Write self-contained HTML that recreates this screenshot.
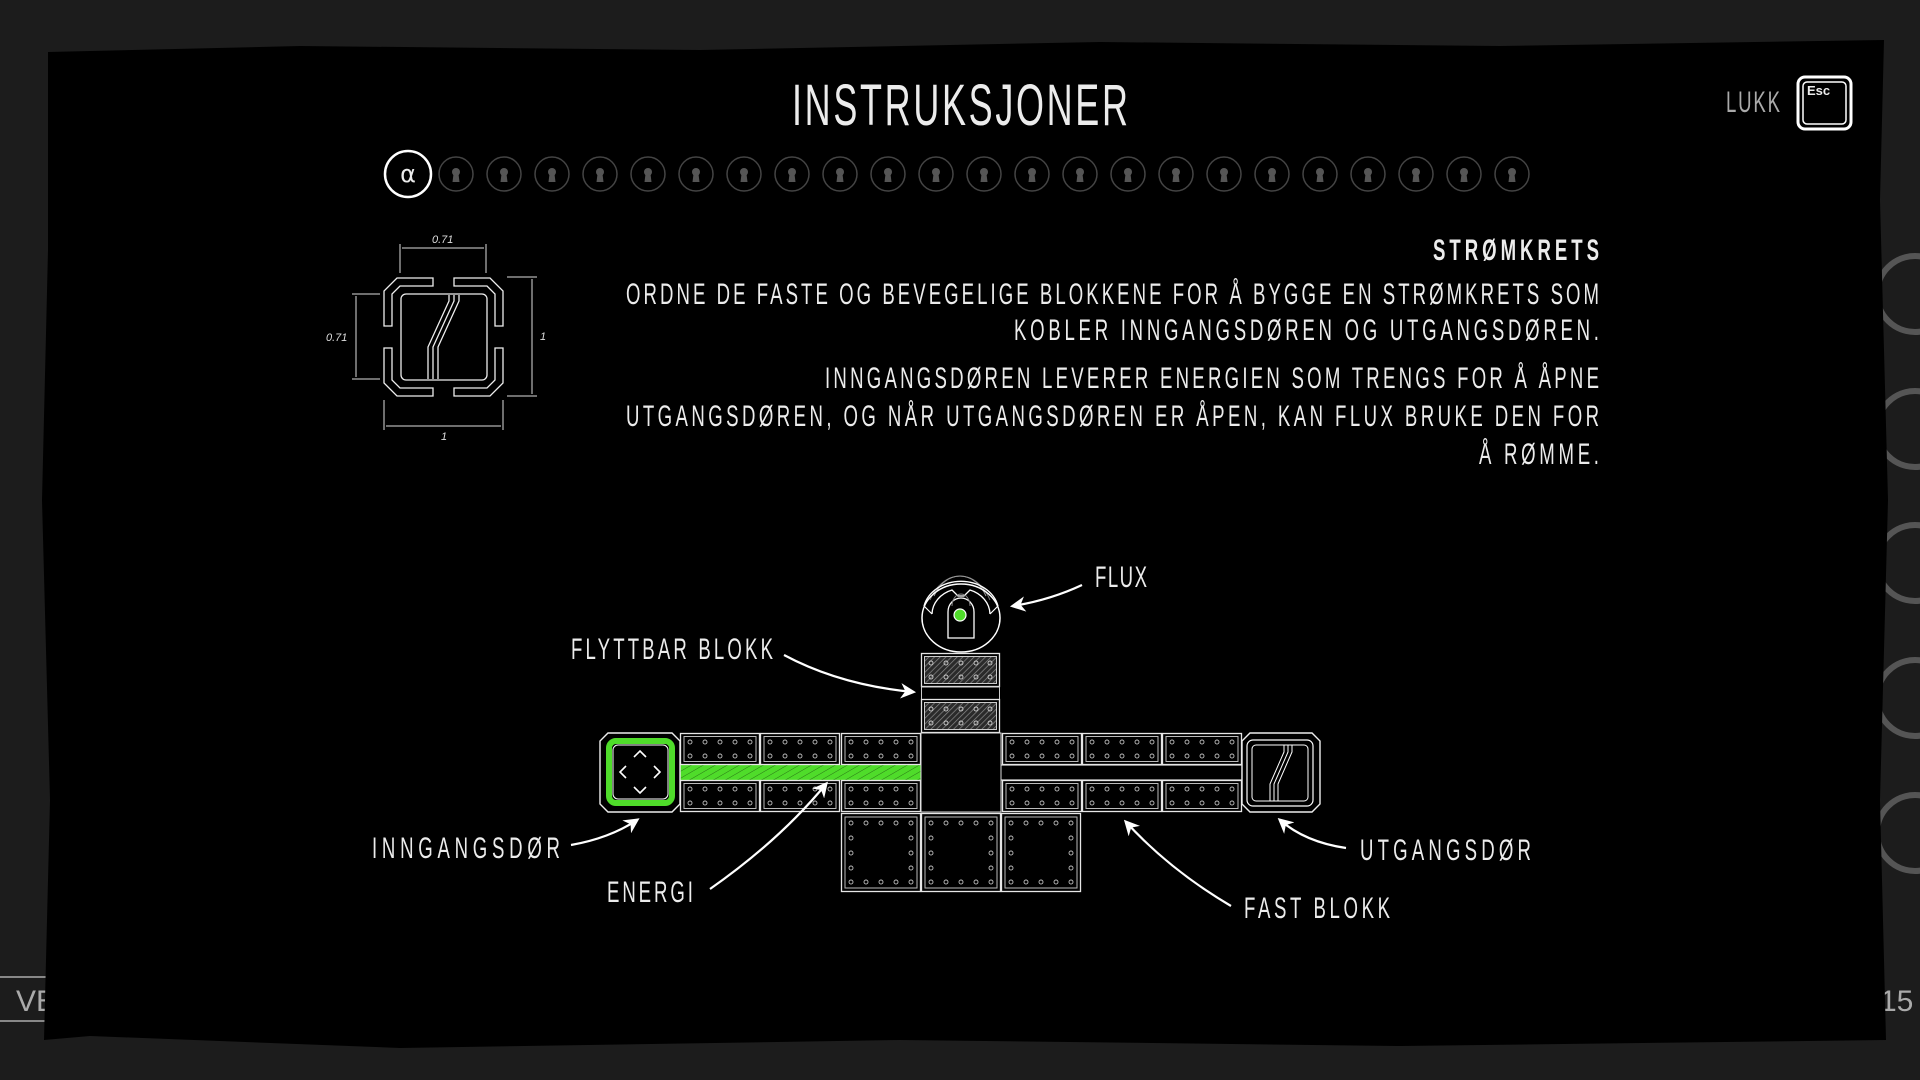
<!DOCTYPE html>
<html><head><meta charset="utf-8">
<style>
html,body{margin:0;padding:0;background:#1c1c1c;width:1920px;height:1080px;overflow:hidden}
svg{display:block}
text{font-family:"Liberation Sans",sans-serif;fill:#ececec}
</style></head><body>
<svg width="1920" height="1080" viewBox="0 0 1920 1080" xmlns="http://www.w3.org/2000/svg">
<defs>
  <pattern id="hatch" width="4" height="4" patternUnits="userSpaceOnUse" patternTransform="rotate(45)">
    <rect width="4" height="4" fill="#2a2a2a"/><line x1="0" y1="0" x2="0" y2="4" stroke="#8a8a8a" stroke-width="1.4"/>
  </pattern>
  <pattern id="ghatch" width="6" height="6" patternUnits="userSpaceOnUse" patternTransform="rotate(60)">
    <rect width="6" height="6" fill="#4fdc2a"/><line x1="0" y1="0" x2="0" y2="6" stroke="#1f5a10" stroke-width="0.8"/>
  </pattern>
  <g id="hb">
    <rect x="0.5" y="0.5" width="79" height="31" fill="#000" stroke="#e6e6e6" stroke-width="1.3"/>
    <rect x="4" y="3.5" width="72" height="25" fill="none" stroke="#bbb" stroke-width="1"/>
    <g fill="none" stroke="#bbb" stroke-width="0.9">
      <circle cx="10" cy="9" r="2"/><circle cx="25" cy="9" r="2"/><circle cx="40" cy="9" r="2"/><circle cx="55" cy="9" r="2"/><circle cx="70" cy="9" r="2"/>
      <circle cx="10" cy="23" r="2"/><circle cx="25" cy="23" r="2"/><circle cx="40" cy="23" r="2"/><circle cx="55" cy="23" r="2"/><circle cx="70" cy="23" r="2"/>
    </g>
  </g>
  <g id="mb">
    <rect x="0.5" y="0.5" width="78" height="33" fill="#000" stroke="#e6e6e6" stroke-width="1.3"/>
    <rect x="3.5" y="3.5" width="72" height="27" fill="url(#hatch)" stroke="#ccc" stroke-width="1"/>
    <g fill="none" stroke="#ccc" stroke-width="0.9">
      <circle cx="10" cy="10" r="2"/><circle cx="25" cy="10" r="2"/><circle cx="40" cy="10" r="2"/><circle cx="55" cy="10" r="2"/><circle cx="69" cy="10" r="2"/>
      <circle cx="10" cy="24" r="2"/><circle cx="25" cy="24" r="2"/><circle cx="40" cy="24" r="2"/><circle cx="55" cy="24" r="2"/><circle cx="69" cy="24" r="2"/>
    </g>
  </g>
  <g id="sq">
    <rect x="0.5" y="0.5" width="79" height="78" fill="#000" stroke="#e6e6e6" stroke-width="1.3"/>
    <rect x="4" y="4" width="72" height="71" fill="none" stroke="#bbb" stroke-width="1"/>
    <g fill="none" stroke="#bbb" stroke-width="0.9">
      <circle cx="10" cy="10" r="2"/><circle cx="25" cy="10" r="2"/><circle cx="40" cy="10" r="2"/><circle cx="55" cy="10" r="2"/><circle cx="70" cy="10" r="2"/>
      <circle cx="10" cy="69" r="2"/><circle cx="25" cy="69" r="2"/><circle cx="40" cy="69" r="2"/><circle cx="55" cy="69" r="2"/><circle cx="70" cy="69" r="2"/>
      <circle cx="10" cy="25" r="2"/><circle cx="10" cy="40" r="2"/><circle cx="10" cy="55" r="2"/>
      <circle cx="70" cy="25" r="2"/><circle cx="70" cy="40" r="2"/><circle cx="70" cy="55" r="2"/>
    </g>
  </g>
  <g id="kh">
    <circle r="17" fill="none" stroke="#444" stroke-width="1.5"/>
    <circle cx="0" cy="-2" r="4" fill="#555"/><path d="M-2.5 0 L2.5 0 L3.5 8 L-3.5 8 Z" fill="#555"/>
  </g>
  <marker id="ah" viewBox="0 0 10 10" refX="8" refY="5" markerWidth="7" markerHeight="7" orient="auto">
    <path d="M0 0 L10 5 L0 10 L3 5 Z" fill="#fff"/>
  </marker>
</defs>

<rect width="1920" height="1080" fill="#1c1c1c"/>
<g fill="none" stroke="#555" stroke-width="6">
  <circle cx="1915" cy="294" r="38"/><circle cx="1915" cy="429" r="38"/><circle cx="1915" cy="563" r="38"/><circle cx="1915" cy="698" r="38"/><circle cx="1915" cy="833" r="38"/>
</g>
<line x1="0" y1="977" x2="100" y2="977" stroke="#888" stroke-width="2"/>
<line x1="0" y1="1021" x2="100" y2="1021" stroke="#888" stroke-width="2"/>
<text x="16" y="1011" font-size="30" style="fill:#aaa">VE</text>
<text x="1880" y="1011" font-size="30" style="fill:#aaa">15</text>

<path d="M48 52 L300 46 L700 50 L1100 42 L1500 46 L1884 40 L1880 200 L1888 500 L1880 800 L1886 1040 L1400 1046 L900 1040 L400 1048 L90 1036 L44 1040 L50 800 L42 500 L48 250 Z" fill="#000"/>

<g transform="scale(0.62,1)">
  <text x="1277.4" y="125" font-size="58" textLength="541.9" lengthAdjust="spacing">INSTRUKSJONER</text>
  <text x="2783.9" y="112" font-size="30" textLength="87.1" lengthAdjust="spacing" style="fill:#aaa">LUKK</text>
  <text x="2579" y="260" font-size="30" font-weight="bold" textLength="267.7" lengthAdjust="spacing" text-anchor="end">STRØMKRETS</text>
  <g font-size="30">
    <text x="1009.7" y="304" textLength="1569.4" lengthAdjust="spacing">ORDNE DE FASTE OG BEVEGELIGE BLOKKENE FOR Å BYGGE EN STRØMKRETS SOM</text>
    <text x="1635.5" y="340" textLength="943.5" lengthAdjust="spacing">KOBLER INNGANGSDØREN OG UTGANGSDØREN.</text>
    <text x="1330.6" y="388" textLength="1248.4" lengthAdjust="spacing">INNGANGSDØREN LEVERER ENERGIEN SOM TRENGS FOR Å ÅPNE</text>
    <text x="1009.7" y="426" textLength="1569.4" lengthAdjust="spacing">UTGANGSDØREN, OG NÅR UTGANGSDØREN ER ÅPEN, KAN FLUX BRUKE DEN FOR</text>
    <text x="2385.5" y="464" textLength="193.5" lengthAdjust="spacing">Å RØMME.</text>
    <text x="1766.1" y="587" textLength="83.9" lengthAdjust="spacing">FLUX</text>
    <text x="921" y="659" textLength="325.8" lengthAdjust="spacing">FLYTTBAR BLOKK</text>
    <text x="600" y="858" textLength="303.2" lengthAdjust="spacing">INNGANGSDØR</text>
    <text x="979" y="902" textLength="138.7" lengthAdjust="spacing">ENERGI</text>
    <text x="2006.5" y="918" textLength="235.5" lengthAdjust="spacing">FAST BLOKK</text>
    <text x="2193.5" y="860" textLength="275.8" lengthAdjust="spacing">UTGANGSDØR</text>
  </g>
</g>

<rect x="1798" y="77" width="53" height="52" rx="7" fill="none" stroke="#fff" stroke-width="3"/>
<rect x="1803" y="82" width="43" height="42" rx="4" fill="none" stroke="#fff" stroke-width="1.5"/>
<text x="1807" y="95" font-size="13" font-weight="bold">Esc</text>

<circle cx="408" cy="174" r="23" fill="none" stroke="#fff" stroke-width="2.5"/>
<text x="408" y="182" font-size="24" text-anchor="middle" style="font-family:'DejaVu Sans',sans-serif">α</text>
<use href="#kh" x="456" y="174"/><use href="#kh" x="504" y="174"/><use href="#kh" x="552" y="174"/><use href="#kh" x="600" y="174"/><use href="#kh" x="648" y="174"/><use href="#kh" x="696" y="174"/><use href="#kh" x="744" y="174"/><use href="#kh" x="792" y="174"/><use href="#kh" x="840" y="174"/><use href="#kh" x="888" y="174"/><use href="#kh" x="936" y="174"/><use href="#kh" x="984" y="174"/><use href="#kh" x="1032" y="174"/><use href="#kh" x="1080" y="174"/><use href="#kh" x="1128" y="174"/><use href="#kh" x="1176" y="174"/><use href="#kh" x="1224" y="174"/><use href="#kh" x="1272" y="174"/><use href="#kh" x="1320" y="174"/><use href="#kh" x="1368" y="174"/><use href="#kh" x="1416" y="174"/><use href="#kh" x="1464" y="174"/><use href="#kh" x="1512" y="174"/>

<g fill="none" stroke="#eee" stroke-width="1.3">
  <path d="M433 278 L397 278 L384 291 L384 326 L392 326 L392 294 L400 286 L433 286 Z"/>
  <path d="M454 278 L490 278 L503 291 L503 326 L495 326 L495 294 L487 286 L454 286 Z"/>
  <path d="M433 396 L397 396 L384 383 L384 348 L392 348 L392 380 L400 388 L433 388 Z"/>
  <path d="M454 396 L490 396 L503 383 L503 348 L495 348 L495 380 L487 388 L454 388 Z"/>
  <rect x="401" y="294" width="86" height="86" rx="5"/>
  <path d="M449 295 L449 301 L428 347 L428 379 M454 295 L454 301 L433 347 L433 379 M459 295 L459 301 L438 347 L438 379"/>
</g>
<g stroke="#ddd" stroke-width="1" fill="none">
  <line x1="400" y1="244" x2="400" y2="273"/><line x1="486" y1="244" x2="486" y2="273"/>
  <line x1="402" y1="248" x2="484" y2="248"/>
  <line x1="380" y1="294" x2="352" y2="294"/><line x1="380" y1="379" x2="352" y2="379"/>
  <line x1="356" y1="296" x2="356" y2="377"/>
  <line x1="507" y1="277" x2="537" y2="277"/><line x1="507" y1="396" x2="537" y2="396"/>
  <line x1="532" y1="279" x2="532" y2="394"/>
  <line x1="384" y1="400" x2="384" y2="430"/><line x1="503" y1="400" x2="503" y2="430"/>
  <line x1="386" y1="426" x2="501" y2="426"/>
</g>
<g font-size="11" font-style="italic">
  <text x="432" y="243" style="fill:#ddd">0.71</text>
  <text x="326" y="341" style="fill:#ddd">0.71</text>
  <text x="540" y="340" style="fill:#ddd">1</text>
  <text x="441" y="440" style="fill:#ddd">1</text>
</g>

<g fill="none" stroke="#fff">
  <path d="M930 600 A34 45 0 0 1 990 600" stroke="#777" stroke-width="1"/>
  <path d="M934 596 A30 40 0 0 1 986 596" stroke="#999" stroke-width="1"/>
  <ellipse cx="961" cy="618" rx="39" ry="34" stroke-width="1.5"/>
  <path d="M924 606 A38 32 0 0 1 998 606" stroke-width="1.3"/>
  <path d="M924 606 L932 614 M998 606 L990 614" stroke-width="1.2"/>
  <path d="M932 614 A30 26 0 0 1 952 590 L958 596 L964 596 L970 590 A30 26 0 0 1 990 614" stroke-width="1.3"/>
  <path d="M948 638 L948 612 A13 14 0 0 1 974 612 L974 638 Z" stroke-width="1.3"/>
  <path d="M952 606 A9 12 0 0 1 970 606" stroke="#888" stroke-width="1"/>
</g>
<circle cx="960" cy="615" r="6" fill="#4fdc2a" stroke="#fff" stroke-width="1.2"/>

<use href="#mb" x="921" y="653"/>
<rect x="921.5" y="687" width="78" height="13" fill="#000" stroke="#ccc" stroke-width="1"/>
<use href="#mb" x="921" y="699"/>

<rect x="1000" y="765" width="242" height="15" fill="#000" stroke="#ddd" stroke-width="1.2"/>
<rect x="672" y="765" width="249" height="15" fill="url(#ghatch)"/>

<use href="#hb" x="680" y="733"/><use href="#hb" x="760" y="733"/><use href="#hb" x="841" y="733"/>
<use href="#hb" x="680" y="780"/><use href="#hb" x="760" y="780"/><use href="#hb" x="841" y="780"/>
<use href="#hb" x="1002" y="733"/><use href="#hb" x="1082" y="733"/><use href="#hb" x="1162" y="733"/>
<use href="#hb" x="1002" y="780"/><use href="#hb" x="1082" y="780"/><use href="#hb" x="1162" y="780"/>
<rect x="921" y="733" width="80" height="79" fill="#000" stroke="#ddd" stroke-width="1"/>
<use href="#sq" x="841" y="813"/><use href="#sq" x="921" y="813"/><use href="#sq" x="1001" y="813"/>

<path d="M608 733 L672 733 L680 741 L680 804 L672 812 L608 812 L600 804 L600 741 Z" fill="#000" stroke="#eee" stroke-width="1.4"/>
<rect x="609" y="741" width="63" height="62" rx="7" fill="none" stroke="#4fdc2a" stroke-width="6"/>
<rect x="613" y="745" width="55" height="54" rx="5" fill="#000" stroke="#fff" stroke-width="1"/>
<g fill="none" stroke="#fff" stroke-width="1.6">
  <path d="M634 757 L640 751 L646 757"/><path d="M634 787 L640 793 L646 787"/>
  <path d="M626 766 L620 772 L626 778"/><path d="M654 766 L660 772 L654 778"/>
</g>

<path d="M1250 733 L1312 733 L1320 741 L1320 804 L1312 812 L1250 812 L1242 804 L1242 741 Z" fill="#000" stroke="#eee" stroke-width="1.4"/>
<rect x="1247" y="740" width="66" height="66" rx="6" fill="none" stroke="#fff" stroke-width="1.2"/>
<rect x="1252" y="745" width="56" height="56" rx="4" fill="none" stroke="#fff" stroke-width="1"/>
<path d="M1284 745 L1284 752 L1270 784 L1270 801 M1288 745 L1288 752 L1274 784 L1274 801 M1292 745 L1292 752 L1278 784 L1278 801" fill="none" stroke="#fff" stroke-width="1"/>

<g fill="none" stroke="#fff" stroke-width="2.2" marker-end="url(#ah)">
  <path d="M1082 585 Q1050 600 1013 606"/>
  <path d="M784 655 Q840 685 913 692"/>
  <path d="M571 845 Q610 838 637 820"/>
  <path d="M710 889 Q780 840 826 784"/>
  <path d="M1231 906 Q1170 870 1126 822"/>
  <path d="M1346 848 Q1305 842 1280 820"/>
</g>
</svg>
</body></html>
